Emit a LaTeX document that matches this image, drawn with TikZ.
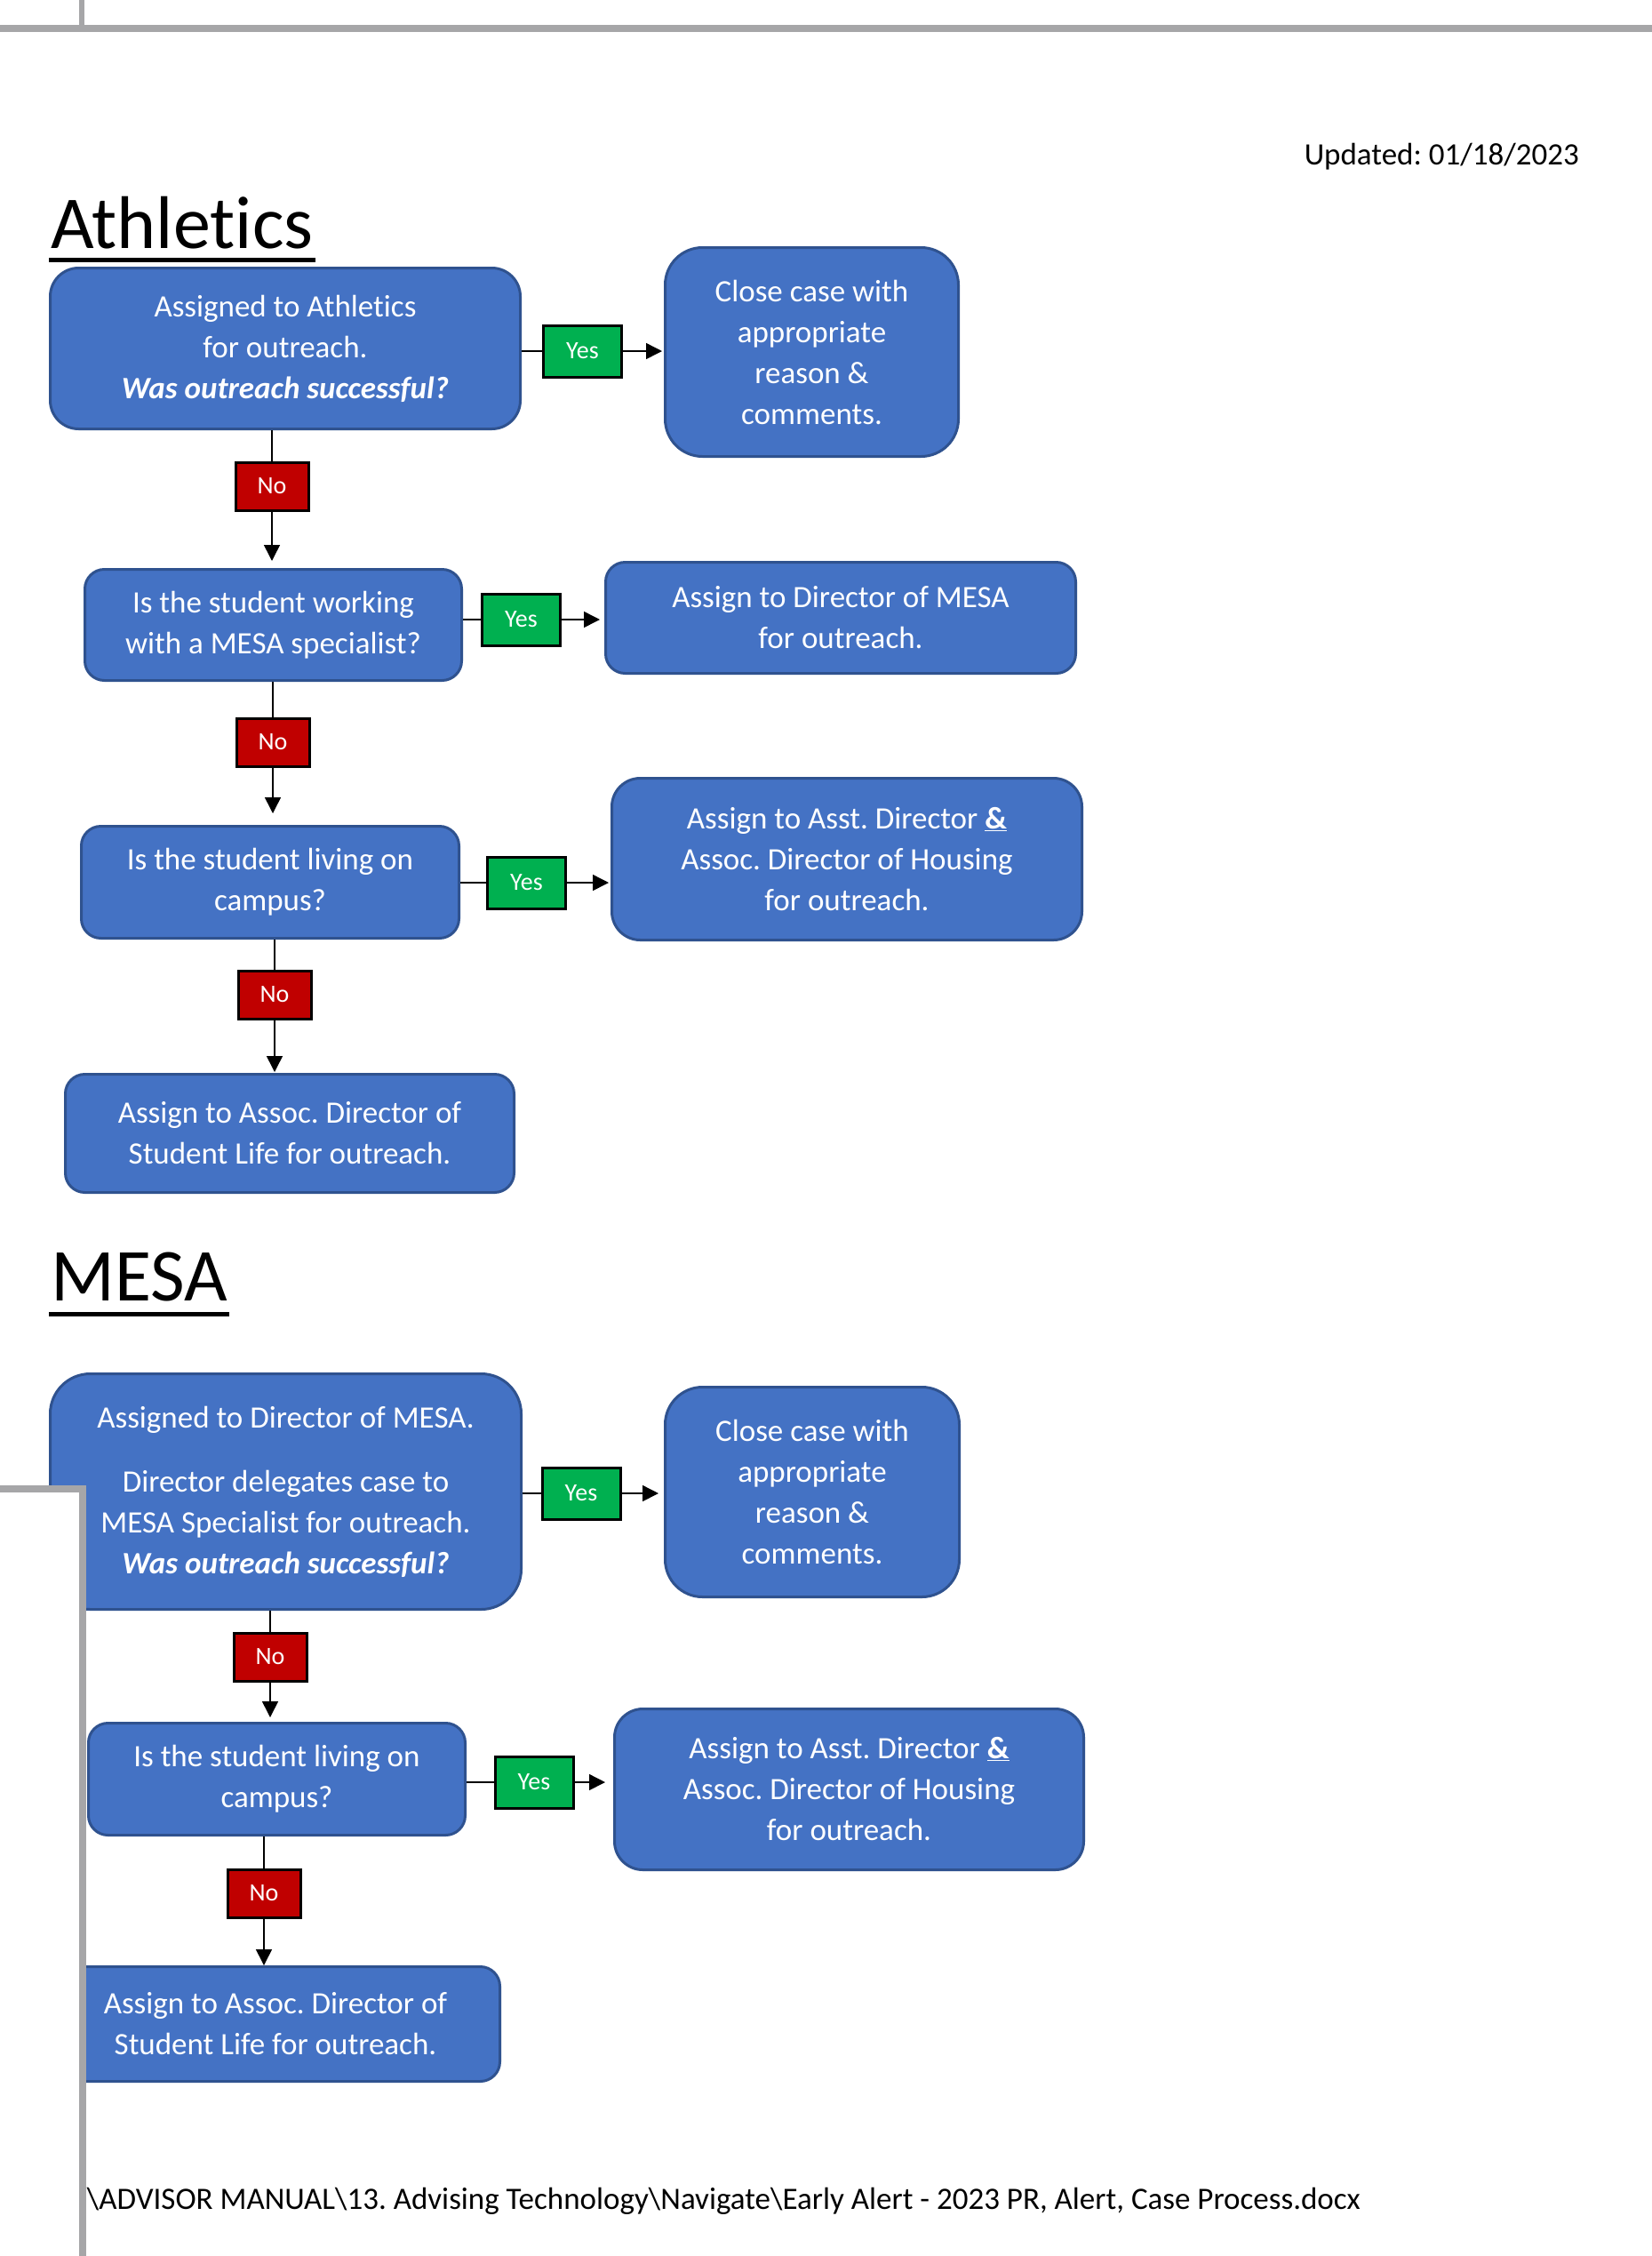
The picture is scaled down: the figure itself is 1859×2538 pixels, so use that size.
\documentclass[tikz,border=0pt]{standalone}
\usepackage{fontspec}
\setmainfont{Carlito}[Ligatures=CommonOff]
\usetikzlibrary{arrows.meta,calc}
\definecolor{boxblue}{RGB}{68,114,196}
\definecolor{boxedge}{RGB}{47,82,143}
\definecolor{yesgreen}{RGB}{0,176,80}
\definecolor{nored}{RGB}{192,0,0}
\definecolor{pagegray}{RGB}{166,166,168}
\frenchspacing
\begin{document}
\begin{tikzpicture}[x=1pt,y=-1pt,
  box/.style={draw=boxedge, fill=boxblue, line width=3pt, text=white, align=center,
    inner sep=0pt, font=\fontsize{35}{46}\selectfont},
  lblbox/.style={draw=black, line width=3pt, text=white, inner sep=0pt,
    font=\fontsize{28}{32}\selectfont},
  yesbox/.style={lblbox, fill=yesgreen, minimum width=88pt, minimum height=58pt},
  nobox/.style={lblbox, fill=nored, minimum width=82pt, minimum height=54pt},
  conn/.style={line width=1.5pt},
  arr/.style={line width=1.5pt, -{Triangle[length=18pt,width=18pt]}},
  heading/.style={inner sep=0pt, anchor=base west, font=\fontsize{84}{100}\selectfont},
]
\fill[white] (0,0) rectangle (1859,2538);
\useasboundingbox (0,0) rectangle (1859,2538);

% page frame lines (top)
\draw[pagegray, line width=8pt] (0,32) -- (1859,32);
\draw[pagegray, line width=6pt] (92,0) -- (92,30);

% header texts
\node[anchor=base east, inner sep=0pt, font=\fontsize{35}{40}\selectfont] (upd) at (1777,185) {Updated: 01/18/2023};

\node[heading] (ath) at (57,279) {Athletics};
\fill ($(ath.base west)+(-2,11)$) rectangle ($(ath.base east)+(2,16)$);

% ---------- Athletics ----------
\node[box, minimum width=529pt, minimum height=181pt, rounded corners=32pt] (A1) at (321,392)
  {Assigned to Athletics\\for outreach.\\\textbf{\textit{Was outreach successful?}}};
\node[yesbox] (Y1) at (655.5,395) {Yes};
\node[box, minimum width=330pt, minimum height=235pt, rounded corners=42pt] (C1) at (913.5,396)
  {Close case with\\appropriate\\reason \&\\comments.};
\node[nobox] (N1) at (306,547) {No};

\node[box, minimum width=424pt, minimum height=125pt, rounded corners=22pt] (B2) at (307.5,703)
  {Is the student working\\with a MESA specialist?};
\node[yesbox] (Y2) at (586.5,697) {Yes};
\node[box, minimum width=529pt, minimum height=125pt, rounded corners=22pt] (D2) at (946,695)
  {Assign to Director of MESA\\for outreach.};
\node[nobox] (N2) at (307,835) {No};

\node[box, minimum width=425pt, minimum height=126pt, rounded corners=22pt] (B3) at (304,992.5)
  {Is the student living on\\campus?};
\node[yesbox] (Y3) at (592.5,993) {Yes};
\node[box, minimum width=529pt, minimum height=182pt, rounded corners=32pt] (H3) at (953,966.5)
  {Assign to Asst. Director \underline{\textbf{\&}}\\Assoc. Director of Housing\\for outreach.};
\node[nobox] (N3) at (309,1119) {No};

\node[box, minimum width=505pt, minimum height=133pt, rounded corners=22pt] (B4) at (326,1275)
  {Assign to Assoc. Director of\\Student Life for outreach.};

\draw[conn] (A1.east |- Y1.west) -- (Y1.west);
\draw[arr, shorten >=2pt] (Y1.east) -- (C1.west |- Y1.east);
\draw[conn] (A1.south -| N1.north) -- (N1.north);
\draw[arr, shorten >=8pt] (N1.south) -- (B2.north -| N1.south);

\draw[conn] (B2.east |- Y2.west) -- (Y2.west);
\draw[arr, shorten >=5pt] (Y2.east) -- (D2.west |- Y2.east);
\draw[conn] (B2.south -| N2.north) -- (N2.north);
\draw[arr, shorten >=13pt] (N2.south) -- (B3.north -| N2.south);

\draw[conn] (B3.east |- Y3.west) -- (Y3.west);
\draw[arr, shorten >=2pt] (Y3.east) -- (H3.west |- Y3.east);
\draw[conn] (B3.south -| N3.north) -- (N3.north);
\draw[arr, shorten >=1pt] (N3.south) -- (B4.north -| N3.south);

% ---------- MESA ----------
\node[heading] (mesa) at (57,1463) {MESA};
\fill ($(mesa.base west)+(-2,13)$) rectangle ($(mesa.base east)+(2,18)$);

\node[box, minimum width=530pt, minimum height=265pt, rounded corners=45pt] (M1) at (321.5,1678)
  {Assigned to Director of MESA.\\[26pt]Director delegates case to\\MESA Specialist for outreach.\\\textbf{\textit{Was outreach successful?}}};
\node[yesbox] (YM1) at (654,1680) {Yes};
\node[box, minimum width=331pt, minimum height=236pt, rounded corners=42pt] (CM) at (914,1678.5)
  {Close case with\\appropriate\\reason \&\\comments.};
\node[nobox] (NM1) at (304,1864) {No};

\node[box, minimum width=424pt, minimum height=126pt, rounded corners=22pt] (M3) at (311.5,2001.5)
  {Is the student living on\\campus?};
\node[yesbox] (YM3) at (601,2005) {Yes};
\node[box, minimum width=528pt, minimum height=181pt, rounded corners=32pt] (HM) at (955.5,2013)
  {Assign to Asst. Director \underline{\textbf{\&}}\\Assoc. Director of Housing\\for outreach.};
\node[nobox] (NM2) at (297,2130) {No};

\node[box, minimum width=505pt, minimum height=129pt, rounded corners=22pt] (M4) at (310,2277)
  {Assign to Assoc. Director of\\Student Life for outreach.};

\draw[conn] (M1.east |- YM1.west) -- (YM1.west);
\draw[arr, shorten >=6pt] (YM1.east) -- (CM.west |- YM1.east);
\draw[conn] (M1.south -| NM1.north) -- (NM1.north);
\draw[arr, shorten >=5pt] (NM1.south) -- (M3.north -| NM1.south);

\draw[conn] (M3.east |- YM3.west) -- (YM3.west);
\draw[arr, shorten >=9pt] (YM3.east) -- (HM.west |- YM3.east);
\draw[conn] (M3.south -| NM2.north) -- (NM2.north);
\draw[arr, shorten >=0pt] (NM2.south) -- (M4.north -| NM2.south);

% footer
\node[anchor=base east, inner sep=0pt, font=\fontsize{35}{40}\selectfont] (foot) at (1531,2485)
  {\textbackslash ADVISOR MANUAL\textbackslash 13. Advising Technology\textbackslash Navigate\textbackslash Early Alert - 2023 PR, Alert, Case Process.docx};

% overlapping page edge (bottom left)
\fill[white] (0,1675) rectangle (93,2538);
\draw[pagegray, line width=8pt, line join=miter] (0,1675) -- (93,1675) -- (93,2538);
\end{tikzpicture}
\end{document}
